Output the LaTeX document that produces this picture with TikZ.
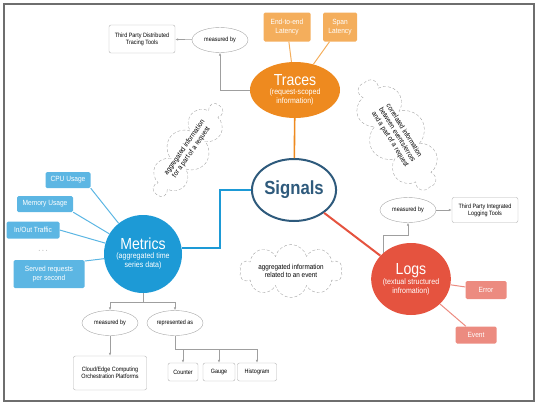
\documentclass[tikz,border=0pt]{standalone}
\usepackage{fontspec}
\setmainfont{Liberation Sans}[FakeStretch=0.88]
\usetikzlibrary{shapes.geometric,shapes.symbols,arrows.meta}

\definecolor{traceorange}{HTML}{EE8A1F}
\definecolor{tracelight}{HTML}{F4AE5C}
\definecolor{metricblue}{HTML}{1D9AD6}
\definecolor{metriclight}{HTML}{5CB6E3}
\definecolor{logred}{HTML}{E5533F}
\definecolor{loglight}{HTML}{EC8B80}
\definecolor{signalblue}{HTML}{2E5A7C}
\definecolor{framegray}{HTML}{6E6E6E}

\newcommand*{\titleSize}{\fontsize{16}{18}\selectfont}
\newcommand*{\subSize}{\fontsize{8}{9}\selectfont}
\newcommand*{\tinySize}{\fontsize{6.2}{7.2}\selectfont}

\tikzset{
    hub/.style={ellipse, inner sep=0pt, text=white, align=center, font=\subSize},
    leaf/.style={rectangle, rounded corners=1.5pt, inner sep=0pt, text=white, align=center,
        font=\fontsize{7.5}{8.5}\selectfont},
    asked/.style={ellipse, draw=gray!70, inner sep=0pt, minimum width=56pt, minimum height=25pt,
        font=\tinySize},
    tool/.style={rectangle, rounded corners=2pt, draw=gray!60, inner sep=0pt, align=center,
        font=\tinySize},
    note/.style={cloud, cloud puffs=10, cloud ignores aspect, draw=gray!70, densely dashed,
        inner sep=0pt, align=center, font=\fontsize{7.2}{8.2}\selectfont},
    link/.style={draw=gray!75, line width=0.6pt, -{Latex[length=3pt,width=2.5pt]}},
}

\begin{document}
\begin{tikzpicture}[x=1pt,y=-1pt]
\useasboundingbox (0,0) rectangle (540,407);

% frame
\draw[framegray, line width=1.6pt] (4,4) rectangle (534,401);

% main topics
\node[hub, draw=signalblue, line width=2pt, fill=white, text=signalblue, minimum width=72pt,
    minimum height=62pt, font=\bfseries\fontsize{19}{21}\selectfont] (Signals) at (294,190) {Signals};
\node[hub, fill=traceorange, minimum width=90pt, minimum height=56pt] (Traces) at (295,90)
    {{\titleSize Traces}\\(request-scoped\\information)};
\node[hub, fill=metricblue, minimum width=78pt, minimum height=78pt] (Metrics) at (143,254)
    {{\titleSize Metrics}\\(aggregated time\\series data)};
\node[hub, fill=logred, minimum width=78pt, minimum height=72pt] (Logs) at (411,279)
    {{\titleSize Logs}\\(textual structured\\infromation)};

% topics to signals
\coordinate (mbend) at (220,190);
\draw[traceorange, line width=1.6pt] (Traces) -- (Signals);
\draw[metricblue, line width=2.2pt] (Metrics.9) -| (mbend) -- (Signals.west);
\draw[logred, line width=2pt] (Signals) -- (Logs);

% traces
\node[leaf, fill=tracelight, minimum width=47pt, minimum height=29pt] (e2e) at (287,27) {End-to-end\\Latency};
\node[leaf, fill=tracelight, minimum width=34pt, minimum height=29pt] (span) at (340,27) {Span\\Latency};
\draw[tracelight, line width=1pt] (e2e) -- (Traces);
\draw[tracelight, line width=1pt] (span) -- (Traces);

\node[asked] (tmeas) at (220,40) {measured by};
\node[tool, minimum width=66pt, minimum height=28pt] (ttools) at (142,39) {Third Party Distributed\\Tracing Tools};
\draw[link] (tmeas) -- (ttools);
\draw[link] (Traces.west) -| (tmeas.south);

\node[note, rotate=55, minimum width=108pt, minimum height=44pt] (tnote) at (188,150)
    {aggregated information\\for a part of a request};

% metrics
\node[leaf, fill=metriclight, minimum width=45pt, minimum height=16pt] (cpu) at (68,180) {CPU Usage};
\node[leaf, fill=metriclight, minimum width=56pt, minimum height=16pt] (mem) at (45,204) {Memory Usage};
\node[leaf, fill=metriclight, minimum width=53pt, minimum height=17pt] (io) at (33,230) {In/Out Traffic};
\node[font=\bfseries\fontsize{7}{8}\selectfont, text=black!70] (dots) at (43,251) {$\cdots$};
\node[leaf, fill=metriclight, minimum width=71pt, minimum height=28pt] (served) at (49,274) {Served requests\\per second};
\draw[metriclight, line width=1pt] (cpu.south east) -- (Metrics);
\draw[metriclight, line width=1pt] (mem.south east) -- (Metrics);
\draw[metriclight, line width=1pt] (io.east) -- (Metrics);
\draw[metriclight, line width=1pt] (served.20) -- (Metrics);

\node[asked] (mmeas) at (110,323) {measured by};
\node[asked] (mrep) at (175,323) {represented as};
\coordinate (msplit) at (143,302);
\draw[gray!75, line width=0.6pt] (Metrics.south) -- (msplit);
\draw[link] (msplit) -| (mmeas.north);
\draw[link] (msplit) -| (mrep.north);

\node[tool, minimum width=73pt, minimum height=34pt] (mtools) at (110,373) {Cloud/Edge Computing\\Orchestration Platforms};
\draw[link] (mmeas) -- (mtools);

\node[tool, minimum width=30pt, minimum height=18pt] (counter) at (183,372) {Counter};
\node[tool, minimum width=32pt, minimum height=18pt] (gauge) at (219,372) {Gauge};
\node[tool, minimum width=39pt, minimum height=18pt] (histo) at (257,372) {Histogram};
\coordinate (rsplit) at (175,349);
\draw[gray!75, line width=0.6pt] (mrep.south) -- (rsplit) -- (rsplit -| histo);
\draw[link] (rsplit -| counter) -- (counter);
\draw[link] (rsplit -| gauge) -- (gauge);
\draw[link] (rsplit -| histo) -- (histo);

% logs
\node[leaf, fill=loglight, minimum width=41pt, minimum height=18pt] (error) at (486,290) {Error};
\node[leaf, fill=loglight, minimum width=41pt, minimum height=17pt] (event) at (476,335) {Event};
\draw[loglight, line width=1pt] (Logs) -- (error);
\draw[loglight, line width=1pt] (Logs) -- (event);

\node[asked] (lmeas) at (408,210) {measured by};
\node[tool, minimum width=66pt, minimum height=25pt] (ltools) at (485,210) {Third Party Integrated\\Logging Tools};
\coordinate (lturn) at (408,235);
\draw[link] (lmeas) -- (ltools);
\draw[link] (Logs.137) |- (lturn) -- (lmeas.south);

\node[note, rotate=-58, minimum width=124pt, minimum height=58pt] (lnote) at (397,135)
    {correlated information\\between events/errors\\and a part of a request};
\node[note, minimum width=103pt, minimum height=53pt] (enote) at (291,271)
    {aggregated information\\related to an event};

\end{tikzpicture}
\end{document}
